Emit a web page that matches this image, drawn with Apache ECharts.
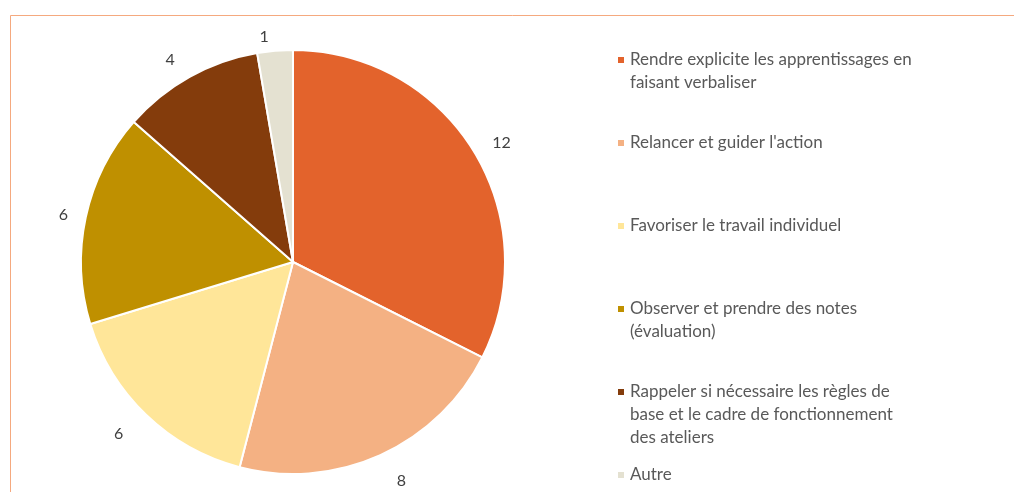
<!DOCTYPE html>
<html>
<head>
<meta charset="utf-8">
<style>
  html, body { margin: 0; padding: 0; background: #fff; }
  #chart { width: 1014px; height: 492px; }
</style>
<script src="https://cdn.jsdelivr.net/npm/echarts@6/dist/echarts.min.js"></script>
</head>
<body>
<div id="chart"></div>
<script>
// data
const categories = [
  'Rendre explicite les apprentissages en\nfaisant verbaliser',
  'Relancer et guider l\'action',
  'Favoriser le travail individuel',
  'Observer et prendre des notes\n(évaluation)',
  'Rappeler si nécessaire les règles de\nbase et le cadre de fonctionnement\ndes ateliers',
  'Autre'
]
const values = [12, 8, 6, 6, 4, 1]
const colors = ['#E3632C', '#F4B183', '#FFE699', '#BF9000', '#843C0C', '#E4E1D1']

// y of the first text line of each legend entry
const legendLineY = [60, 143, 226, 309, 392, 475]
// how far outside the rim each value label sits
const labelGap = [16, 28, 26, 13, 20, 14]
const LH = 23

const chart = echarts.init(document.getElementById('chart'), null, { renderer: 'canvas' })

// one legend per entry so the spacing matches; blank lines in front keep
// the icon level with the first text line
const legends = categories.map((name, i) => {
  const n = name.split('\n').length
  return {
    orient: 'vertical',
    left: 616,
    top: legendLineY[i] - (2 * n - 1) * LH / 2,
    padding: 0,
    itemWidth: 8,
    itemHeight: 8,
    itemGap: 0,
    icon: 'rect',
    selectedMode: false,
    data: [name],
    formatter: s => '\n'.repeat(n - 1) + s,
    textStyle: {
      fontFamily: 'Lato',
      fontSize: 17,
      color: '#595959',
      lineHeight: LH
    }
  }
})

chart.setOption({
  animation: false,
  color: colors,
  graphic: [{
    type: 'rect',
    silent: true,
    shape: { x: 10.5, y: 15.5, width: 1100, height: 600 },
    style: { fill: 'none', stroke: '#F5A97F', lineWidth: 1 }
  }],
  legend: legends,
  series: [{
    type: 'pie',
    center: [293, 262],
    radius: 212,
    startAngle: 90,
    clockwise: true,
    avoidLabelOverlap: false,
    itemStyle: { borderColor: '#fff', borderWidth: 2 },
    label: {
      show: true,
      position: 'outside',
      formatter: '{c}',
      fontFamily: 'Lato',
      fontSize: 16,
      color: '#404040'
    },
    labelLine: { show: false, length: 18, length2: 0 },
    emphasis: { disabled: true },
    data: categories.map((name, i) => ({
      name,
      value: values[i],
      labelLine: { length: labelGap[i] }
    }))
  }]
})
</script>
</body>
</html>
